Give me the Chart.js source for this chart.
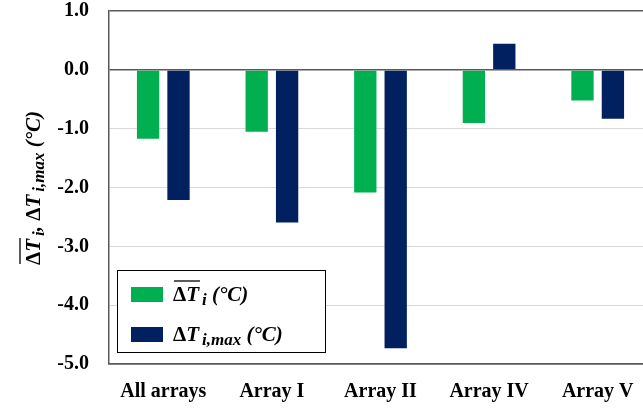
<!DOCTYPE html>
<html>
<head>
<meta charset="utf-8">
<script src="https://cdn.jsdelivr.net/npm/chart.js@4"></script>
<style>
    body { margin: 0; overflow: hidden; background: #fff; }
    #wrap { width: 652px; height: 411px; position: relative; }
</style>
</head>
<body>
<div id="wrap"><canvas id="tempChart"></canvas></div>
<script>
const categories = ['All arrays', 'Array I', 'Array II', 'Array IV', 'Array V'];
const meanDelta = [-1.19, -1.07, -2.10, -0.92, -0.54];
const maxDelta = [-2.23, -2.61, -4.75, 0.46, -0.85];
const seriesNames = ['ΔT̄i (°C)', 'ΔTi,max (°C)'];
const yTicks = [1, 0, -1, -2, -3, -4, -5];

const serif = "'Liberation Serif', 'Times New Roman', serif";
const green = '#00b050';
const navy = '#002060';

// pieces of the math labels: delta, italic T, subscript
function labelParts(idx) {
    return [
        { t: 'Δ', f: 'bold 21px ' + serif, over: idx === 0 },
        { t: 'T', f: 'bold italic 21px ' + serif, over: idx === 0 },
        { t: idx === 0 ? 'i' : 'i,max', f: 'bold italic 17px ' + serif, dy: 4, gap: 3 }
    ];
}

function drawRich(ctx, parts, x, y) {
    let cx = x;
    let ox1 = null, ox2 = null;
    ctx.textAlign = 'left';
    ctx.textBaseline = 'alphabetic';
    parts.forEach(p => {
        cx += p.gap || 0;
        ctx.font = p.f;
        ctx.fillText(p.t, cx, y + (p.dy || 0));
        const w = ctx.measureText(p.t).width;
        if (p.over) {
            if (ox1 === null) ox1 = cx;
            ox2 = cx + w;
        }
        cx += w;
    });
    if (ox1 !== null) {
        ctx.beginPath();
        ctx.lineWidth = 1.3;
        ctx.moveTo(ox1 + 1, y - 20);
        ctx.lineTo(ox2 + 1, y - 20);
        ctx.stroke();
    }
    return cx - x;
}

const unit = { t: ' (°C)', f: 'bold italic 21px ' + serif };

const customDraw = {
    id: 'customDraw',
    afterDraw(chart) {
        const ctx = chart.ctx;
        ctx.save();
        ctx.fillStyle = '#000';
        ctx.strokeStyle = '#000';

        // y axis title
        ctx.save();
        ctx.translate(40, 265);
        ctx.rotate(-Math.PI / 2);
        drawRich(ctx, labelParts(0).concat([{ t: ', ', f: 'bold italic 21px ' + serif }], labelParts(1), [unit]), 0, 0);
        ctx.restore();

        // legend
        ctx.fillStyle = '#fff';
        ctx.fillRect(117, 270, 208, 82);
        ctx.lineWidth = 1;
        ctx.strokeRect(117.5, 270.5, 208, 82);
        const swatch = [green, navy];
        const rows = [294.5, 334.5];
        seriesNames.forEach((name, i) => {
            ctx.fillStyle = swatch[i];
            ctx.fillRect(131, rows[i] - 7.5, 32, 15);
            ctx.fillStyle = '#000';
            drawRich(ctx, labelParts(i).concat([unit]), 173, rows[i] + 6.5);
        });
        ctx.restore();
    }
};

const darkLine = v => v === 0 || v === yTicks[0] || v === yTicks[yTicks.length - 1];

new Chart(document.getElementById('tempChart').getContext('2d'), {
    type: 'bar',
    data: {
        labels: categories,
        datasets: [{
            label: seriesNames[0],
            data: meanDelta,
            backgroundColor: green,
            borderColor: 'rgba(255,255,255,0.3)',
            borderWidth: 1,
            categoryPercentage: 0.56,
            barPercentage: 0.8
        }, {
            label: seriesNames[1],
            data: maxDelta,
            backgroundColor: navy,
            borderColor: 'rgba(255,255,255,0.3)',
            borderWidth: 1,
            categoryPercentage: 0.56,
            barPercentage: 0.8
        }]
    },
    options: {
        responsive: true,
        maintainAspectRatio: false,
        animation: false,
        layout: { padding: { top: 11, left: 0, right: 0, bottom: 0 } },
        plugins: {
            legend: { display: false },
            tooltip: { enabled: false }
        },
        scales: {
            x: {
                grid: { display: false },
                border: { display: true, color: '#595959', width: 1.5 },
                ticks: {
                    color: '#000',
                    font: { family: serif, size: 20, weight: 'bold' },
                    padding: 8
                },
                afterFit(scale) {
                    scale.height = 47;
                    scale.paddingLeft = 0;
                    scale.paddingRight = 0;
                }
            },
            y: {
                min: Math.min(...yTicks),
                max: Math.max(...yTicks),
                ticks: {
                    stepSize: 1,
                    color: '#000',
                    font: { family: serif, size: 20, weight: 'bold' },
                    padding: 20,
                    callback: v => v.toFixed(1)
                },
                grid: {
                    drawTicks: false,
                    color: c => darkLine(c.tick.value) ? '#595959' : '#d9d9d9',
                    lineWidth: c => darkLine(c.tick.value) ? 1.5 : 1
                },
                border: { display: true, color: '#595959', width: 1.5 },
                afterFit(scale) {
                    scale.width = 109;
                    scale.paddingTop = 0;
                    scale.paddingBottom = 0;
                }
            }
        }
    },
    plugins: [customDraw]
});
</script>
</body>
</html>
